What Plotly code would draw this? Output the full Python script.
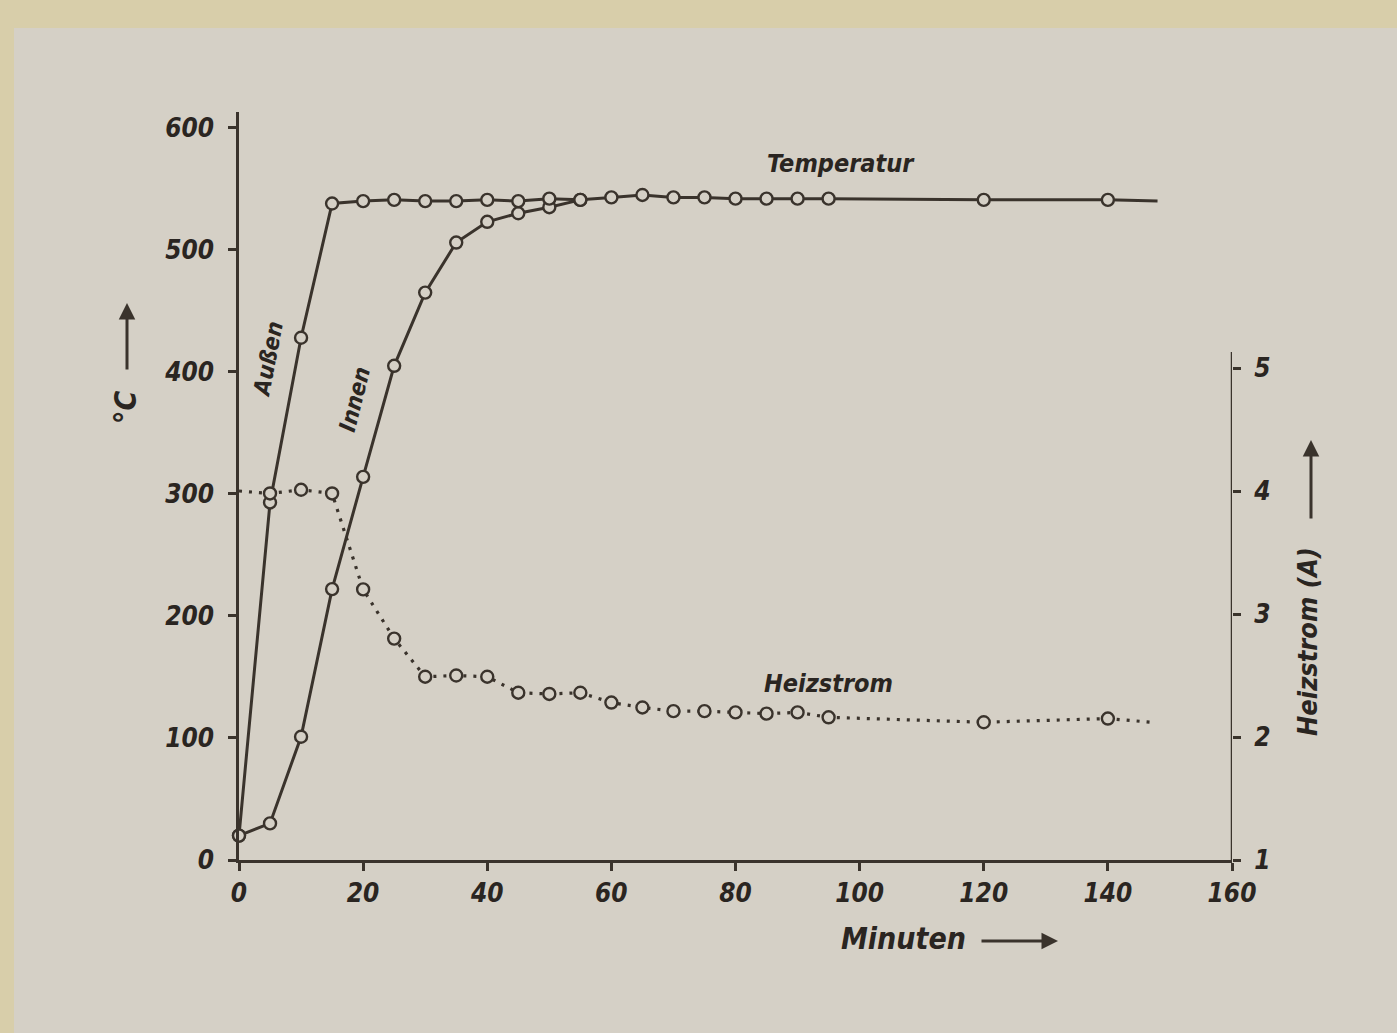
import plotly.graph_objects as go

# ---------------- data ----------------
minutes_aussen = [0, 5, 10, 15, 20, 25, 30, 35, 40, 45, 50, 55, 60, 65, 70, 75, 80, 85, 90, 95, 120, 140, 148]
temp_aussen = [20, 293, 428, 538, 540, 541, 540, 540, 541, 540, 542, 541, 543, 545, 543, 543, 542, 542, 542, 542, 541, 541, 540]

minutes_innen = [0, 5, 10, 15, 20, 25, 30, 35, 40, 45, 50, 55]
temp_innen = [20, 30, 101, 222, 314, 405, 465, 506, 523, 530, 535, 541]

minutes_strom = [0, 5, 10, 15, 20, 25, 30, 35, 40, 45, 50, 55, 60, 65, 70, 75, 80, 85, 90, 95, 120, 140, 147]
heizstrom = [4.0, 3.98, 4.01, 3.98, 3.20, 2.80, 2.49, 2.50, 2.49, 2.36, 2.35, 2.36, 2.28, 2.24, 2.21, 2.21,
             2.20, 2.19, 2.20, 2.16, 2.12, 2.15, 2.12]

x_ticks = [0, 20, 40, 60, 80, 100, 120, 140, 160]
y_ticks = [0, 100, 200, 300, 400, 500, 600]
y2_ticks = [1, 2, 3, 4, 5]

# ---------------- style ----------------
PAPER = "#d5d0c6"
OUTER = "#d8ceaa"
INK = "#3a332c"
TXT = "#2a2521"
FONT = "DejaVu Sans Condensed, Liberation Sans Narrow, DejaVu Sans, sans-serif"
MS = 12

W, H = 1397, 1033
ML, MR, MT, MB = 239, 165, 112, 173
PW, PH = W - ML - MR, H - MT - MB


def px_to_paper(px, py):
    return (px - ML) / PW, (H - MB - py) / PH


def sizes(n, skip_first=False, skip_last=False):
    s = [MS] * n
    if skip_first:
        s[0] = 0
    if skip_last:
        s[-1] = 0
    return s


marker_common = dict(color=PAPER, opacity=1, line=dict(color=INK, width=2.4))

fig = go.Figure()

fig.add_trace(go.Scatter(
    x=minutes_strom, y=heizstrom, yaxis="y2", mode="lines+markers",
    line=dict(color=INK, width=3.2, dash="3px,7px"),
    marker=dict(size=sizes(len(minutes_strom), True, True), **marker_common),
    showlegend=False, cliponaxis=False))

fig.add_trace(go.Scatter(
    x=minutes_innen, y=temp_innen, mode="lines+markers",
    line=dict(color=INK, width=3),
    marker=dict(size=sizes(len(minutes_innen)), **marker_common),
    showlegend=False, cliponaxis=False))

fig.add_trace(go.Scatter(
    x=minutes_aussen, y=temp_aussen, mode="lines+markers",
    line=dict(color=INK, width=3),
    marker=dict(size=sizes(len(minutes_aussen), False, True), **marker_common),
    showlegend=False, cliponaxis=False))

tickfont = dict(family=FONT, size=26, color=TXT, weight="bold", style="italic")

fig.update_layout(
    width=W, height=H,
    margin=dict(l=ML, r=MR, t=MT, b=MB, pad=0),
    paper_bgcolor=OUTER, plot_bgcolor="rgba(0,0,0,0)",
    xaxis=dict(range=[0, 160], tickvals=x_ticks, ticks="outside", ticklen=8, tickwidth=2.5,
               tickcolor=INK, showline=True, linecolor=INK, linewidth=2.5, showgrid=False,
               zeroline=False, tickfont=tickfont),
    yaxis=dict(range=[0, 613], tickvals=y_ticks, ticks="outside", ticklen=8, tickwidth=2.5,
               tickcolor=INK, showline=True, linecolor=INK, linewidth=2.5, showgrid=False,
               zeroline=False, tickfont=tickfont, ticklabelstandoff=9),
    yaxis2=dict(range=[1, 1 + PH / 123.0], tickvals=y2_ticks, ticks="outside", ticklen=8,
                tickwidth=2.5, tickcolor=INK, overlaying="y", side="right", showline=False,
                showgrid=False, zeroline=False, tickfont=tickfont, ticklabelstandoff=8),
)

# paper sheet, right axis line, small x-axis overshoot past the right axis
fig.add_shape(type="rect", xref="paper", yref="paper",
              x0=px_to_paper(14, 0)[0], x1=px_to_paper(W + 5, 0)[0],
              y0=px_to_paper(0, H + 5)[1], y1=px_to_paper(0, 28)[1],
              fillcolor=PAPER, line=dict(width=0), layer="below")
fig.add_shape(type="line", xref="x", yref="y2", x0=160, x1=160, y0=1, y1=5.13,
              line=dict(color=INK, width=2.5))
fig.add_shape(type="line", xref="x", yref="y", x0=160, x1=161.3, y0=0, y1=0,
              line=dict(color=INK, width=2.5))

lab = dict(family=FONT, color=TXT, weight="bold", style="italic")
ctr = dict(xanchor="center", yanchor="middle", showarrow=False)

fig.add_annotation(x=97, y=571, xref="x", yref="y", text="Temperatur",
                   font=dict(size=25, **lab), **ctr)
fig.add_annotation(x=95, y=145, xref="x", yref="y", text="Heizstrom",
                   font=dict(size=25, **lab), **ctr)
fig.add_annotation(x=4.6, y=410, xref="x", yref="y", text="Außen",
                   textangle=-79, font=dict(size=23, **lab), **ctr)
fig.add_annotation(x=18.6, y=378, xref="x", yref="y", text="Innen",
                   textangle=-76, font=dict(size=23, **lab), **ctr)

# axis titles
px, py = px_to_paper(125, 408)
fig.add_annotation(x=px, y=py, xref="paper", yref="paper", text="°C",
                   textangle=-90, font=dict(size=30, **lab), **ctr)
px, py = px_to_paper(1307, 642)
fig.add_annotation(x=px, y=py, xref="paper", yref="paper", text="Heizstrom (A)",
                   textangle=-90, font=dict(size=27, **lab), **ctr)
px, py = px_to_paper(903, 938)
fig.add_annotation(x=px, y=py, xref="paper", yref="paper", text="Minuten",
                   font=dict(size=30, **lab), **ctr)

# arrows
arrow = dict(text="", showarrow=True, arrowhead=2, arrowsize=1.1, arrowwidth=3, arrowcolor=INK,
             xref="paper", yref="paper")
hx, hy = px_to_paper(127, 303)
fig.add_annotation(x=hx, y=hy, ax=0, ay=68, **arrow)
hx, hy = px_to_paper(1311, 440)
fig.add_annotation(x=hx, y=hy, ax=0, ay=80, **arrow)
hx, hy = px_to_paper(1058, 941)
fig.add_annotation(x=hx, y=hy, ax=-78, ay=0, **arrow)

fig.write_html(
    "out.html",
    config={"displayModeBar": False},
    post_script="document.body.style.margin='0';document.body.style.overflow='hidden';"
                "document.body.style.background='" + OUTER + "';",
)
